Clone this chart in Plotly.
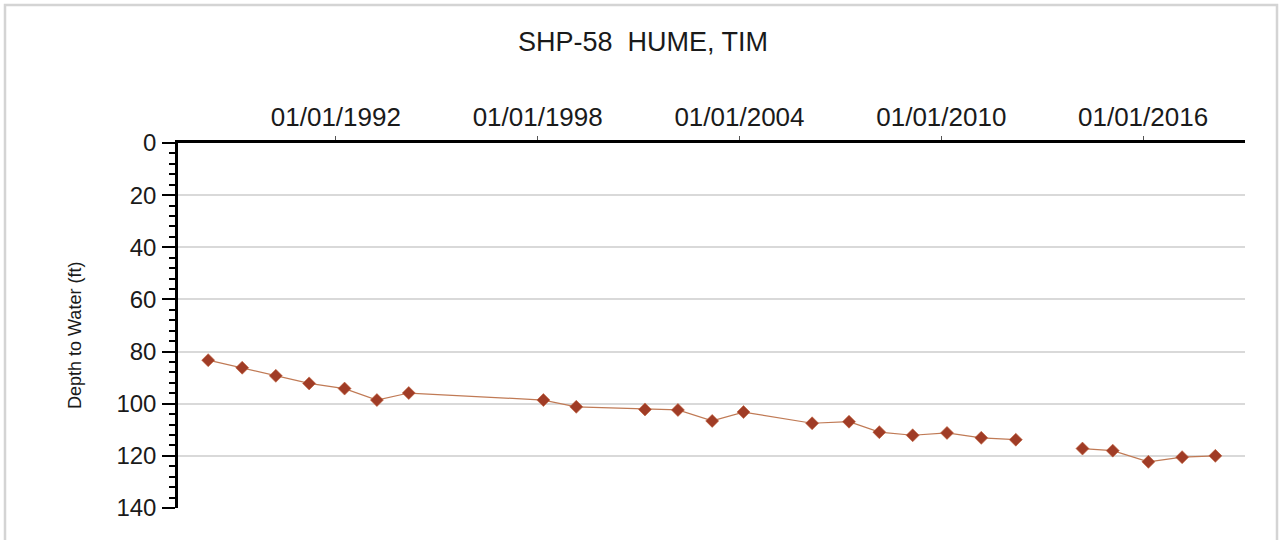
import plotly.graph_objects as go

# Well SHP-58 (HUME, TIM): annual depth-to-water measurements
sample_dates = [
    "1988-03-16", "1989-03-20", "1990-03-20", "1991-03-17", "1992-04-05",
    "1993-03-22", "1994-03-03", "1998-03-04", "1999-02-24", "2001-03-11",
    "2002-03-04", "2003-03-11", "2004-02-14", "2006-02-28", "2007-04-05",
    "2008-02-28", "2009-02-24", "2010-03-04", "2011-03-11", "2012-03-20",
    "2013-03-01",  # no reading this year; breaks the line
    "2014-03-14", "2015-02-06", "2016-02-28", "2017-02-28", "2018-02-24",
]
depth_ft = [
    83.3, 86.2, 89.3, 92.2, 94.2,
    98.6, 95.9, 98.6, 101.2, 102.2,
    102.4, 106.6, 103.2, 107.5, 106.9,
    110.9, 112.1, 111.2, 113.1, 113.8,
    None,
    117.2, 118.0, 122.3, 120.5, 120.0,
]

date_range = ["1987-04-23", "2019-01-12"]
depth_range = [140, 0]
title_text = "SHP-58&nbsp;&nbsp;HUME, TIM"
y_title = "Depth to Water (ft)"

FONT = "Liberation Sans, Arial, sans-serif"
INK = "#1a1a1a"

# plot-area geometry in pixels
W, H = 1281, 540
L, R, T, B = 178, 36, 143, 32
PW, PH = W - L - R, H - T - B

fig = go.Figure()
fig.add_trace(go.Scatter(
    x=sample_dates,
    y=depth_ft,
    mode="lines+markers",
    connectgaps=False,
    line=dict(color="#c07a55", width=1.2),
    marker=dict(symbol="diamond", size=10, color="#a03c26",
                line=dict(width=0.6, color="#c0603a")),
    hoverinfo="x+y",
    showlegend=False,
))

fig.update_layout(
    width=W,
    height=H,
    margin=dict(l=L, r=R, t=T, b=B),
    paper_bgcolor="white",
    plot_bgcolor="white",
    font=dict(family=FONT, color=INK),
    title=dict(
        text=title_text,
        x=643 / W,
        xref="container",
        xanchor="center",
        y=1 - 42 / H,
        yref="container",
        yanchor="middle",
        font=dict(family=FONT, size=27, color=INK),
    ),
    xaxis=dict(
        type="date",
        side="top",
        range=date_range,
        tick0="1992-01-01",
        dtick="M72",
        tickformat="%m/%d/%Y",
        ticks="outside",
        ticklen=4,
        tickwidth=1,
        tickcolor="#555555",
        ticklabelstandoff=0,
        tickfont=dict(family=FONT, size=26, color=INK),
        showline=True,
        linecolor="black",
        linewidth=3,
        showgrid=False,
        zeroline=False,
    ),
    yaxis=dict(
        range=depth_range,
        tick0=0,
        dtick=20,
        ticks="outside",
        ticklen=13,
        tickwidth=1.5,
        tickcolor="black",
        ticklabelstandoff=1,
        tickfont=dict(family=FONT, size=24, color=INK),
        minor=dict(dtick=4, ticks="outside", ticklen=6, tickwidth=1.5,
                   tickcolor="black", showgrid=False),
        showline=True,
        linecolor="black",
        linewidth=2.5,
        showgrid=True,
        gridcolor="#d9d9d9",
        gridwidth=2,
        zeroline=False,
    ),
    annotations=[dict(
        text=y_title,
        xref="paper", yref="paper",
        x=(75 - L) / PW, y=(H - B - 336) / PH,
        xanchor="center", yanchor="middle",
        textangle=-90,
        showarrow=False,
        font=dict(family=FONT, size=18, color=INK),
    )],
    shapes=[dict(
        type="rect", xref="paper", yref="paper",
        x0=(5 - L) / PW, x1=(1277 - L) / PW,
        y0=(H - B - 548) / PH, y1=(H - B - 5) / PH,
        line=dict(color="#d4d4d4", width=2.5),
        fillcolor="rgba(0,0,0,0)",
        layer="below",
    )],
)

fig.write_html("out.html")
